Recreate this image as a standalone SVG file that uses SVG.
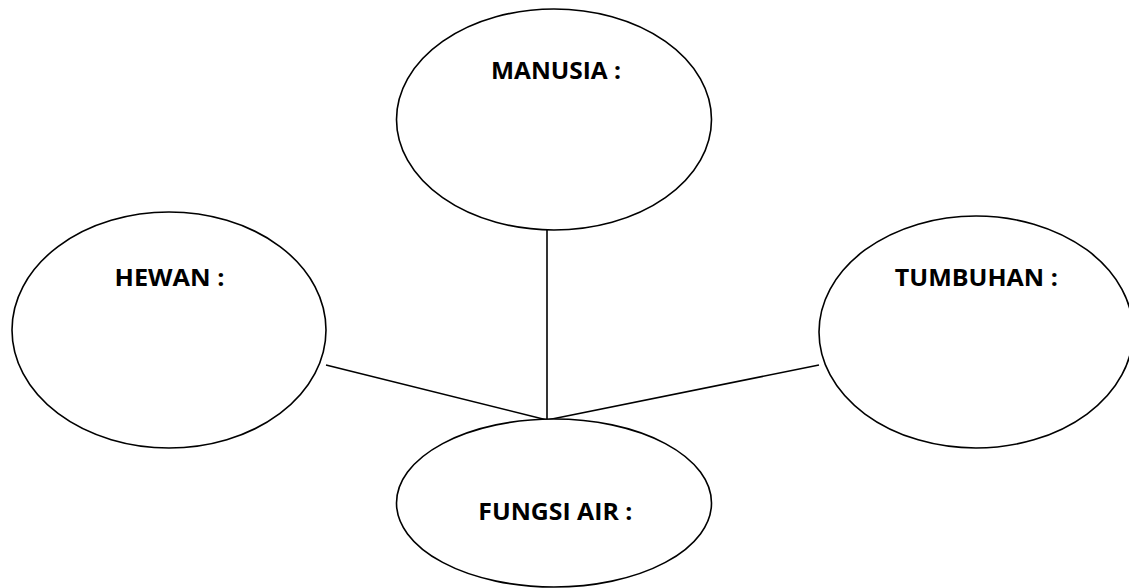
<svg xmlns="http://www.w3.org/2000/svg" width="1129" height="588" viewBox="0 0 1129 588">
<style>
.node{fill:#fff;stroke:#000;stroke-width:1.6}
.lbl{font-family:"Open Sans","Liberation Sans",sans-serif;font-weight:bold;font-size:22.5px;fill:#000;text-anchor:middle}
.conn{stroke:#000;stroke-width:1.6;fill:none}
</style>
<rect width="1129" height="588" fill="#fff"/>
<g id="connectors">
<line class="conn" x1="547" y1="230" x2="547" y2="420"/>
<line class="conn" x1="326" y1="365" x2="547" y2="420"/>
<line class="conn" x1="819" y1="365" x2="547" y2="420"/>
</g>
<g id="manusia">
<ellipse class="node" cx="554" cy="119.5" rx="157.5" ry="110.5"/>
<text class="lbl" x="556" y="79" textLength="130" lengthAdjust="spacingAndGlyphs">MANUSIA :</text>
</g>
<g id="hewan">
<ellipse class="node" cx="169" cy="330" rx="157" ry="118"/>
<text class="lbl" x="169.5" y="286" textLength="110" lengthAdjust="spacingAndGlyphs">HEWAN :</text>
</g>
<g id="tumbuhan">
<ellipse class="node" cx="976" cy="332" rx="157" ry="116"/>
<text class="lbl" x="976.3" y="286" textLength="163" lengthAdjust="spacingAndGlyphs">TUMBUHAN :</text>
</g>
<g id="fungsi-air">
<ellipse class="node" cx="554" cy="503" rx="157.5" ry="84"/>
<text class="lbl" x="555.3" y="520" textLength="154" lengthAdjust="spacingAndGlyphs">FUNGSI AIR :</text>
</g>
</svg>
